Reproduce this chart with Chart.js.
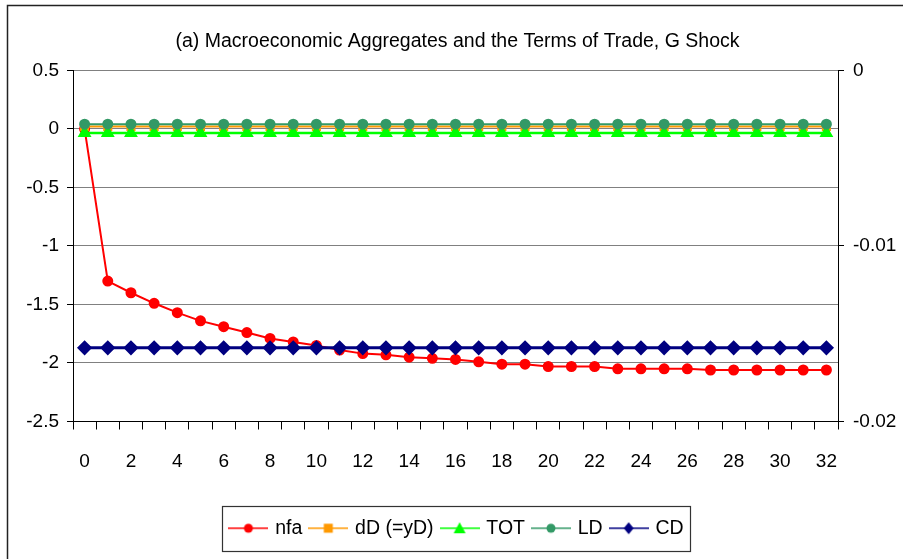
<!DOCTYPE html>
<html>
<head>
<meta charset="utf-8">
<script src="https://cdn.jsdelivr.net/npm/chart.js@4"></script>
<style>
  html, body { margin: 0; padding: 0; background: #fff; }
  #wrap { width: 903px; height: 559px; position: relative; }
</style>
</head>
<body>
<div id="wrap"><canvas id="aggChart"></canvas></div>
<script>
// quarters after the shock
const periods = ['0','1','2','3','4','5','6','7','8','9','10','11','12','13','14','15','16',
                 '17','18','19','20','21','22','23','24','25','26','27','28','29','30','31','32'];

// left axis series
const nfa = [0, -1.30, -1.40, -1.49, -1.57, -1.64, -1.69, -1.74, -1.79, -1.82, -1.85,
             -1.89, -1.92, -1.93, -1.95, -1.96, -1.97, -1.99, -2.01, -2.01, -2.03,
             -2.03, -2.03, -2.05, -2.05, -2.05, -2.05, -2.06, -2.06, -2.06, -2.06, -2.06, -2.06];
const dD = [0.02, 0.02, 0.02, 0.02, 0.02, 0.02, 0.02, 0.02, 0.02, 0.02, 0.02,
            0.02, 0.02, 0.02, 0.02, 0.02, 0.02, 0.02, 0.02, 0.02, 0.02,
            0.02, 0.02, 0.02, 0.02, 0.02, 0.02, 0.02, 0.02, 0.02, 0.02, 0.02, 0.02];
const TOT = [-0.035, -0.035, -0.035, -0.035, -0.035, -0.035, -0.035, -0.035, -0.035, -0.035, -0.035,
             -0.035, -0.035, -0.035, -0.035, -0.035, -0.035, -0.035, -0.035, -0.035, -0.035,
             -0.035, -0.035, -0.035, -0.035, -0.035, -0.035, -0.035, -0.035, -0.035, -0.035, -0.035, -0.035];
const LD = [0.04, 0.04, 0.04, 0.04, 0.04, 0.04, 0.04, 0.04, 0.04, 0.04, 0.04,
            0.04, 0.04, 0.04, 0.04, 0.04, 0.04, 0.04, 0.04, 0.04, 0.04,
            0.04, 0.04, 0.04, 0.04, 0.04, 0.04, 0.04, 0.04, 0.04, 0.04, 0.04, 0.04];
// right axis series
const CD = [-0.0158, -0.0158, -0.0158, -0.0158, -0.0158, -0.0158, -0.0158, -0.0158, -0.0158, -0.0158, -0.0158,
            -0.0158, -0.0158, -0.0158, -0.0158, -0.0158, -0.0158, -0.0158, -0.0158, -0.0158, -0.0158,
            -0.0158, -0.0158, -0.0158, -0.0158, -0.0158, -0.0158, -0.0158, -0.0158, -0.0158, -0.0158, -0.0158, -0.0158];

const titleText = '(a) Macroeconomic Aggregates and the Terms of Trade, G Shock';
const FONT = 'Liberation Sans, Arial, sans-serif';

// small legend icon: line with the marker in the middle (excel style)
function legendIcon(color, style, lw) {
	const c = document.createElement('canvas');
	c.width = 40; c.height = 16;
	const g = c.getContext('2d');
	g.strokeStyle = color; g.fillStyle = color; g.lineWidth = lw;
	g.beginPath(); g.moveTo(0, 8); g.lineTo(40, 8); g.stroke();
	g.beginPath();
	if (style === 'circle') g.arc(20, 8, 4.5, 0, Math.PI * 2);
	else if (style === 'rect') g.rect(15.5, 3.5, 9, 9);
	else if (style === 'triangle') { g.moveTo(20, 2); g.lineTo(26, 13); g.lineTo(14, 13); g.closePath(); }
	else if (style === 'rectRot') { g.moveTo(20, 2); g.lineTo(25, 8); g.lineTo(20, 14); g.lineTo(15, 8); g.closePath(); }
	g.fill();
	return c;
}

// frame around the whole chart + box around legend
const framePlugin = {
	id: 'frame',
	afterDraw(chart) {
		const ctx = chart.ctx;
		ctx.save();
		ctx.strokeStyle = '#222';
		ctx.lineWidth = 1.5;
		ctx.beginPath();
		ctx.moveTo(7.5, 559); ctx.lineTo(7.5, 5.5); ctx.lineTo(903, 5.5);
		ctx.stroke();
		const boxes = chart.legend.legendHitBoxes;
		if (boxes && boxes.length) {
			let l = Infinity, r = -Infinity, t = Infinity, b = -Infinity;
			boxes.forEach(h => { l = Math.min(l, h.left); r = Math.max(r, h.left + h.width); t = Math.min(t, h.top); b = Math.max(b, h.top + h.height); });
			ctx.strokeStyle = '#333';
			ctx.lineWidth = 1.2;
			ctx.strokeRect(Math.round(l) - 8.5, Math.round(t) - 12.5, Math.round(r - l) + 16, Math.round(b - t) + 25);
		}
		ctx.restore();
	}
};

const datasets = [
	{ label: 'nfa', data: nfa, yAxisID: 'y', borderColor: '#FF0000', backgroundColor: '#FF0000',
	  borderWidth: 2, pointStyle: 'circle', pointRadius: 4.5, order: 5, icon: legendIcon('#FF0000', 'circle', 1.5) },
	{ label: 'dD (=yD)', data: dD, yAxisID: 'y', borderColor: '#FF9900', backgroundColor: '#FF9900',
	  borderWidth: 2, pointStyle: 'rect', pointRadius: 5, order: 4, icon: legendIcon('#FF9900', 'rect', 1.5) },
	{ label: 'TOT', data: TOT, yAxisID: 'y', borderColor: '#00FF00', backgroundColor: '#00FF00',
	  borderWidth: 2.5, pointStyle: 'triangle', pointRadius: 5.5, order: 3, icon: legendIcon('#00FF00', 'triangle', 1.5) },
	{ label: 'LD', data: LD, yAxisID: 'y', borderColor: '#339966', backgroundColor: '#339966',
	  borderWidth: 2, pointStyle: 'circle', pointRadius: 4.5, order: 2, icon: legendIcon('#339966', 'circle', 1.5) },
	{ label: 'CD', data: CD, yAxisID: 'y1', borderColor: '#000080', backgroundColor: '#000080',
	  borderWidth: 3, pointStyle: 'rectRot', pointRadius: 5.5, order: 1, icon: legendIcon('#000080', 'rectRot', 1.5) }
];

const ctx = document.getElementById('aggChart');

new Chart(ctx, {
	type: 'line',
	data: { labels: periods, datasets: datasets },
	options: {
		responsive: true,
		maintainAspectRatio: false,
		animation: false,
		layout: { padding: { left: 12, right: 0, top: 0, bottom: 11 } },
		elements: { line: { tension: 0 }, point: { borderWidth: 0 } },
		plugins: {
			title: {
				display: true, text: titleText, color: '#000',
				font: { family: FONT, size: 19.5, weight: 'normal' },
				padding: { top: 30, bottom: 17 }
			},
			legend: {
				position: 'bottom',
				labels: {
					color: '#000', font: { family: FONT, size: 19.5 },
					usePointStyle: true, pointStyleWidth: 34, padding: 9,
					generateLabels: () => datasets.map((d, i) => ({
						text: d.label, pointStyle: d.icon, fillStyle: d.borderColor,
						strokeStyle: d.borderColor, lineWidth: 0, datasetIndex: i, hidden: false
					}))
				}
			},
			tooltip: { enabled: false }
		},
		scales: {
			x: {
				type: 'category', offset: true,
				grid: { offset: true, drawOnChartArea: false, tickLength: 8, tickColor: '#000' },
				border: { color: '#000', width: 1 },
				ticks: {
					autoSkip: false, maxRotation: 0, color: '#000', padding: 21,
					font: { family: FONT, size: 19 },
					callback: function (v, i) { return i % 2 === 0 ? periods[i] : ''; }
				},
				afterFit: s => { s.height = 88; }
			},
			y: {
				position: 'left', min: -2.5, max: 0.5,
				grid: { color: '#808080', tickColor: '#000', tickLength: 6 },
				border: { color: '#000', width: 1 },
				ticks: { stepSize: 0.5, color: '#000', padding: 8, font: { family: FONT, size: 19 },
					callback: v => String(Math.round(v * 10) / 10) },
				afterFit: s => { s.width = 61; }
			},
			y1: {
				position: 'right', min: -0.02, max: 0,
				grid: { drawOnChartArea: false, tickColor: '#000', tickLength: 6 },
				border: { color: '#000', width: 1 },
				ticks: { stepSize: 0.01, color: '#000', padding: 9, font: { family: FONT, size: 19 },
					callback: v => String(Math.round(v * 100) / 100) },
				afterFit: s => { s.width = 65; }
			}
		}
	},
	plugins: [framePlugin]
});
</script>
</body>
</html>
